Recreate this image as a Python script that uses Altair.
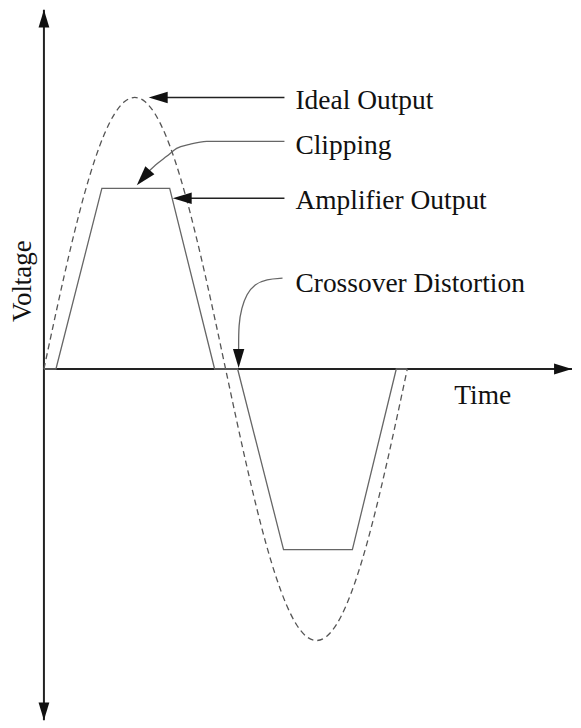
import altair as alt
import pandas as pd

# ---- data (time in degrees of phase, voltage normalised to ideal peak) ----
ideal_t = [0, 10, 20, 30, 40, 50, 60, 70, 80, 90, 100, 110, 120, 130, 140, 150, 160, 170, 180,
           190, 200, 210, 220, 230, 240, 250, 260, 270, 280, 290, 300, 310, 320, 330, 340, 350, 360]
ideal_v = [0.0, 0.174, 0.342, 0.5, 0.643, 0.766, 0.866, 0.94, 0.985, 1.0, 0.985, 0.94, 0.866,
           0.766, 0.643, 0.5, 0.342, 0.174, 0.0, -0.174, -0.342, -0.5, -0.643, -0.766, -0.866,
           -0.94, -0.985, -1.0, -0.985, -0.94, -0.866, -0.766, -0.643, -0.5, -0.342, -0.174, 0.0]

amp_t = [0, 11.9, 57.4, 124.6, 169.1, 191.9, 237.4, 305.6, 349.1, 360]
amp_v = [0, 0, 0.665, 0.665, 0, 0, -0.665, -0.665, 0, 0]

# axes (voltage axis at t=0, time axis at v=0)
x_min, x_max = -35.6, 523.2
y_min, y_max = -1.2941, 1.3235

# straight annotation arrows
ann_names = ["Ideal Output", "Amplifier Output"]
ann_t1 = [238.3, 238.3]
ann_t2 = [119.7, 139.4]
ann_v = [1.0, 0.6287]

# curved annotation arrows
clip_t = [238.3, 161.2, 144.4, 131.5, 121.6, 112.7, 102.9]
clip_v = [0.8382, 0.8382, 0.8272, 0.8125, 0.7831, 0.7574, 0.7243]
cross_t = [236.4, 220.5, 208.7, 200.8, 195.8, 192.9, 192.9]
cross_v = [0.3346, 0.3309, 0.3125, 0.2757, 0.2243, 0.1654, 0.0662]

# arrow heads: tip position and direction
head_t = [0, 0, x_max, 103.8, 127.6, 92.0, 192.9]
head_v = [y_max, y_min, 0, 1.0, 0.6287, 0.6765, 0.0037]
head_angle = [0, 180, 90, 270, 270, 221, 180]
head_size = [324, 324, 324, 361, 361, 400, 361]

# labels
label_text = ["Ideal Output", "Clipping", "Amplifier Output", "Crossover Distortion", "Time"]
label_t = [249.2, 249.2, 249.2, 249.2, 406.5]
label_v = [0.9559, 0.7904, 0.5882, 0.2831, -0.1287]
ylabel_text = ["Voltage"]
ylabel_t = [-12.9]
ylabel_v = [0.3235]

FONT = "'Liberation Serif', 'Times New Roman', 'DejaVu Serif', serif"

# ---- chart ----
X = lambda f: alt.X(f, type="quantitative", axis=None,
                    scale=alt.Scale(domain=[x_min, x_max], nice=False, zero=False))
Y = lambda f: alt.Y(f, type="quantitative", axis=None,
                    scale=alt.Scale(domain=[y_min, y_max], nice=False, zero=False))

axes_df = pd.DataFrame({"t1": [0, 0], "t2": [0, x_max], "v1": [y_min, 0], "v2": [y_max, 0]})
axes = alt.Chart(axes_df).mark_rule(color="#222", strokeWidth=2).encode(
    x=X("t1"), x2="t2", y=Y("v1"), y2="v2")

ideal = alt.Chart(pd.DataFrame({"t": ideal_t, "v": ideal_v})).mark_line(
    color="#555", strokeWidth=1.3, strokeDash=[6, 4], interpolate="monotone").encode(
    x=X("t"), y=Y("v"))

amp = alt.Chart(pd.DataFrame({"t": amp_t, "v": amp_v})).mark_line(
    color="#666", strokeWidth=1.3).encode(x=X("t"), y=Y("v"))

ann_df = pd.DataFrame({"name": ann_names, "t1": ann_t1, "t2": ann_t2, "v": ann_v})
ann = alt.Chart(ann_df).mark_rule(color="#222", strokeWidth=1.5).encode(
    x=X("t1"), x2="t2", y=Y("v"))

clip_df = pd.DataFrame({"t": clip_t, "v": clip_v, "o": list(range(len(clip_t)))})
clip = alt.Chart(clip_df).mark_line(color="#666", strokeWidth=1.3, interpolate="monotone").encode(
    x=X("t"), y=Y("v"), order="o:Q")

cross_df = pd.DataFrame({"t": cross_t, "v": cross_v, "o": list(range(len(cross_t)))})
cross = alt.Chart(cross_df).mark_line(color="#666", strokeWidth=1.3, interpolate="basis").encode(
    x=X("t"), y=Y("v"), order="o:Q")

heads_df = pd.DataFrame({"t": head_t, "v": head_v, "a": head_angle, "s": head_size})
heads = alt.Chart(heads_df).mark_point(
    shape="M0,0L0.6,2L-0.6,2Z", filled=True, color="#111", opacity=1, strokeWidth=0).encode(
    x=X("t"), y=Y("v"), angle=alt.Angle("a:Q", scale=None), size=alt.Size("s:Q", scale=None))

labels = alt.Chart(pd.DataFrame({"txt": label_text, "t": label_t, "v": label_v})).mark_text(
    align="left", baseline="alphabetic", font=FONT, fontSize=27.5, color="#111").encode(
    x=X("t"), y=Y("v"), text="txt:N")

ylabel = alt.Chart(pd.DataFrame({"txt": ylabel_text, "t": ylabel_t, "v": ylabel_v})).mark_text(
    align="center", baseline="alphabetic", angle=270, font=FONT, fontSize=27,
    color="#111").encode(x=X("t"), y=Y("v"), text="txt:N")

chart = alt.layer(axes, ideal, amp, ann, clip, cross, heads, labels, ylabel).properties(
    width=565, height=712, padding=0
).configure_view(stroke=None)

chart.save("out.html", embed_options={"renderer": "svg", "actions": False})
